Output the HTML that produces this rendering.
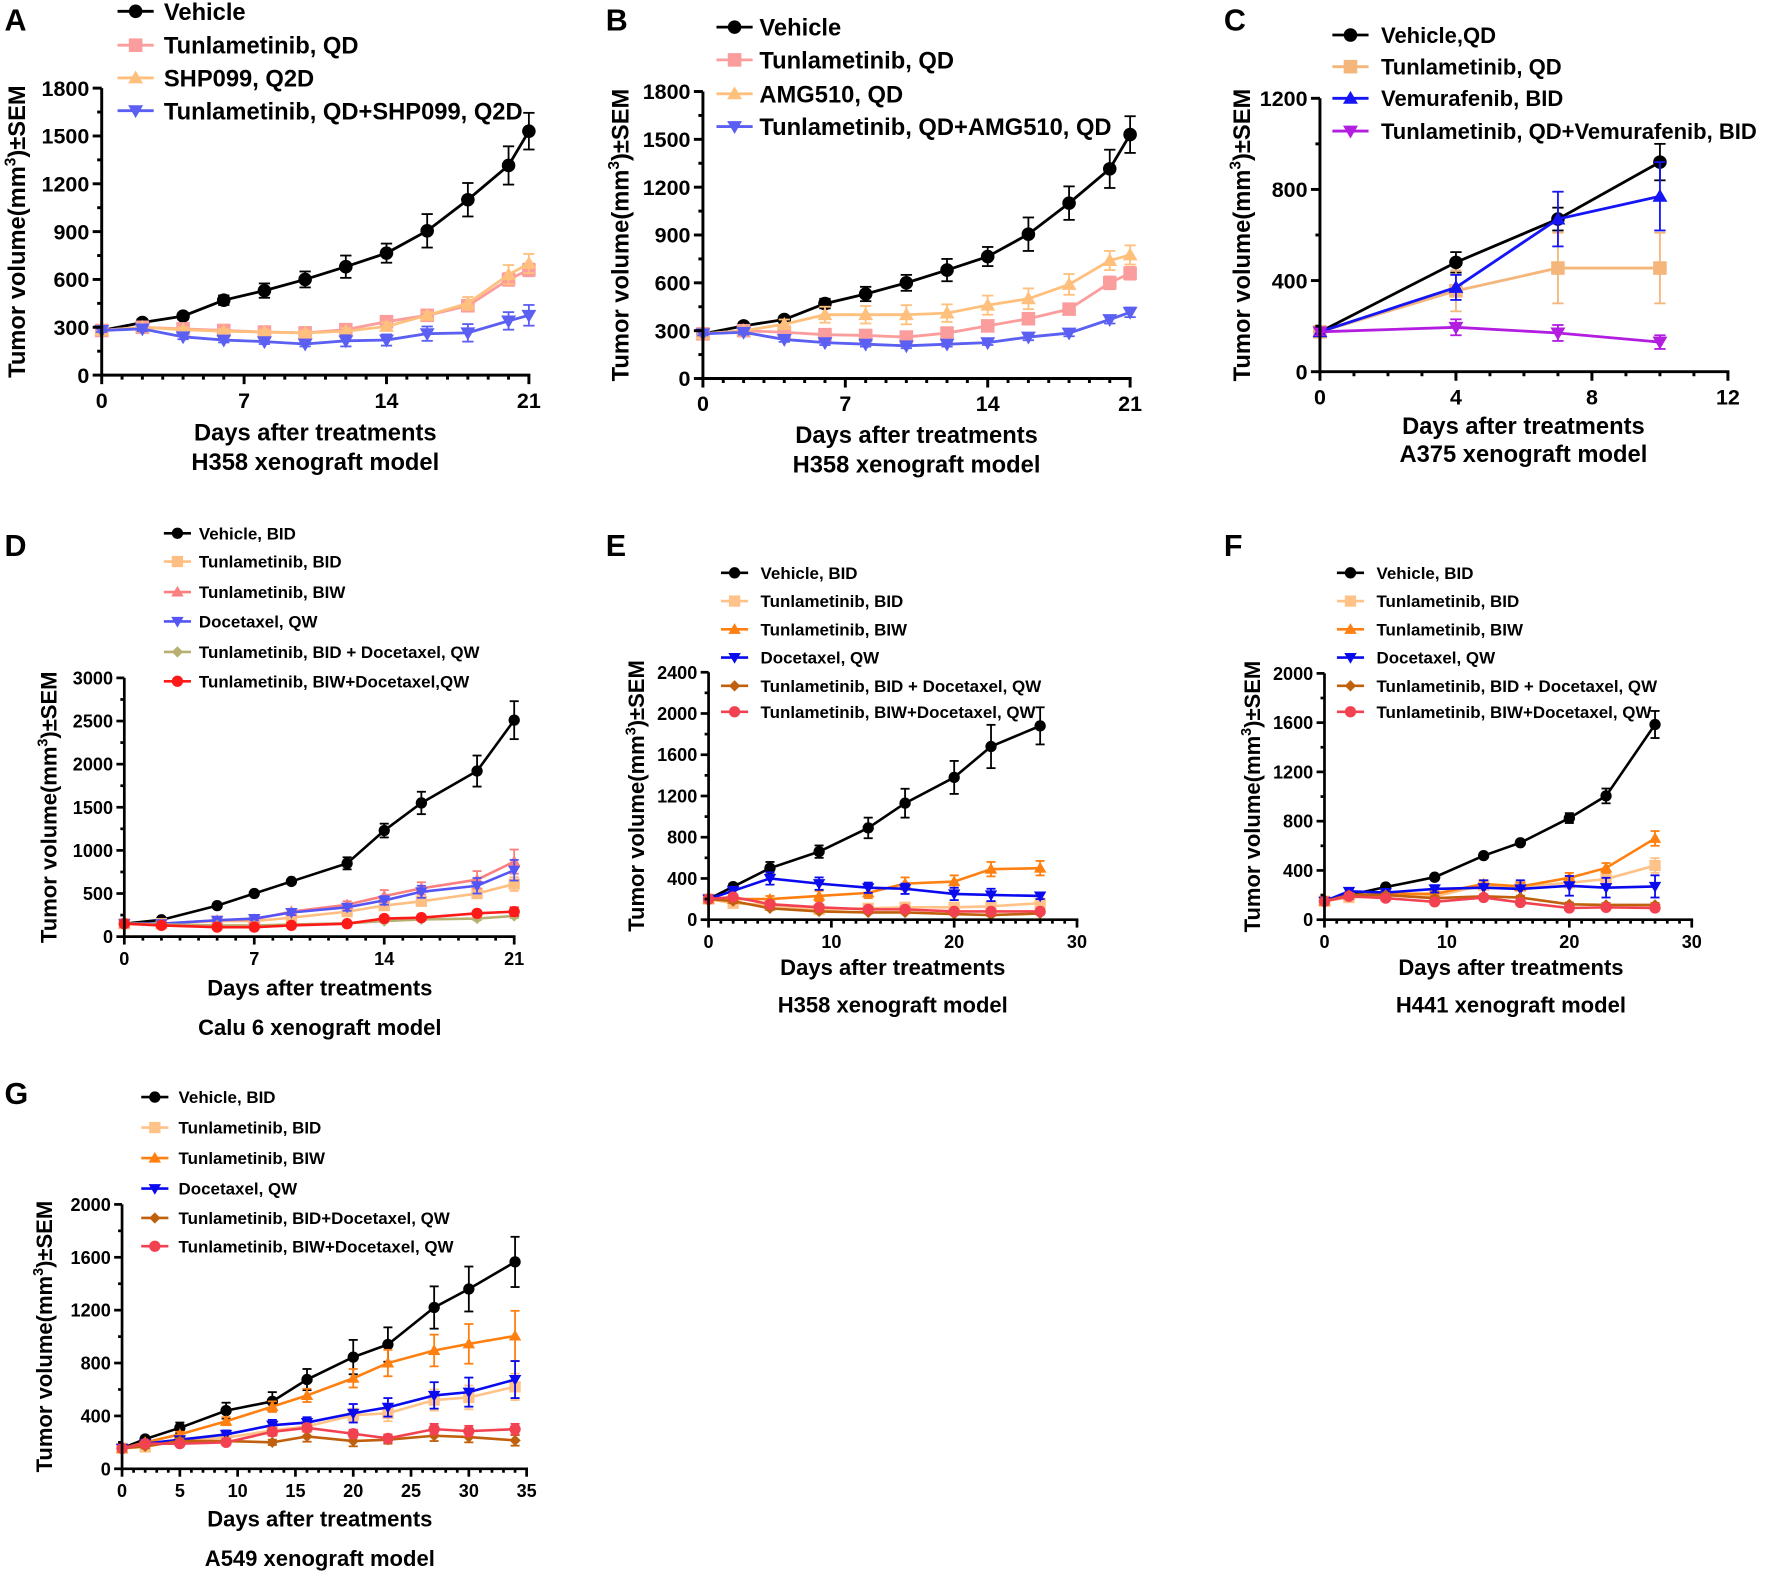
<!DOCTYPE html>
<html><head><meta charset="utf-8"><style>
html,body{margin:0;padding:0;background:#fff;}
svg{display:block;font-family:"Liberation Sans",Arial,sans-serif;font-weight:bold;}
</style></head><body>
<svg id="fig" width="1772" height="1575" viewBox="0 0 1568 1394" preserveAspectRatio="none" xmlns="http://www.w3.org/2000/svg"></svg>
<script>
// ---------- DATA ----------
const aDays=[0,2,4,6,8,10,12,14,16,18,20,21];
const aVeh=[280,330,370,470,530,600,680,765,905,1100,1315,1530];
const aVehErr=[10,20,20,30,45,50,70,60,105,105,120,115];
const aTun=[280,300,290,280,270,265,285,335,375,435,600,660];
const aTunErr=[10,15,15,15,15,15,20,25,20,25,40,40];
const aShp=[280,300,285,275,270,265,275,305,375,450,630,700];
const aShpErr=[10,15,15,15,15,15,20,25,20,40,60,60];
const aCmb=[280,290,240,220,210,195,215,220,260,265,340,375];
const aCmbErr=[10,15,15,15,15,15,35,35,45,55,55,65];

const bDays=aDays;
const bVeh=[280,330,370,470,530,600,680,765,905,1100,1315,1530];
const bVehErr=[10,20,20,30,45,50,70,60,105,105,120,115];
const bTun=[280,300,290,275,270,260,285,330,375,435,600,660];
const bTunErr=[10,15,15,15,15,15,20,25,20,25,40,40];
const bAmg=[280,300,340,400,400,400,410,460,500,590,740,775];
const bAmgErr=[10,20,30,50,55,60,55,60,65,65,60,60];
const bCmb=[280,290,245,225,215,205,215,225,260,285,370,415];
const bCmbErr=[10,15,15,15,15,15,15,15,20,20,25,30];

const cDays=[0,4,7,10];
const cVeh=[175,480,670,920];const cVehErr=[15,45,50,80];
const cTun=[175,355,455,455];const cTunErr=[15,90,155,155];
const cVem=[175,370,670,770];const cVemErr=[15,55,120,150];
const cCmb=[175,195,170,130];const cCmbErr=[15,35,35,30];

const dDays=[0,2,5,7,9,12,14,16,19,21];
const dVeh=[150,195,360,500,640,850,1230,1550,1920,2510];
const dVehErr=[10,20,20,20,20,70,80,130,180,220];
const dTunBid=[150,150,180,180,220,290,360,410,500,610];
const dTunBidErr=[10,10,15,15,20,25,30,40,50,80];
const dTunBiw=[150,150,190,200,290,370,470,560,660,870];
const dTunBiwErr=[10,10,15,15,25,40,70,70,100,140];
const dDoc=[150,150,190,210,280,340,420,520,590,770];
const dDocErr=[10,10,15,20,30,40,50,70,90,120];
const dCbid=[150,140,130,130,140,155,180,200,210,240];
const dCbidErr=[10,10,10,10,10,15,15,15,20,25];
const dCbiw=[150,130,110,110,130,150,210,220,270,290];
const dCbiwErr=[10,10,10,10,10,15,20,20,30,50];

const eDays=[0,2,5,9,13,16,20,23,27];
const eVeh=[200,320,500,660,890,1130,1380,1680,1880];
const eVehErr=[10,30,60,60,100,140,160,210,180];
const eTunBid=[200,160,140,100,110,120,120,130,160];
const eTunBidErr=[20,20,20,20,20,20,20,20,30];
const eTunBiw=[200,200,200,230,260,350,370,490,500];
const eTunBiwErr=[20,30,30,50,50,60,60,70,70];
const eDoc=[200,280,400,350,310,300,250,240,230];
const eDocErr=[20,40,60,60,50,50,60,60,30];
const eCbid=[200,180,110,80,70,70,55,45,60];
const eCbidErr=[20,20,15,10,10,10,10,10,10];
const eCbiw=[200,220,150,120,100,100,80,80,80];
const eCbiwErr=[20,20,15,15,10,10,10,10,10];

const fDays=[0,2,5,9,13,16,20,23,27];
const fVeh=[150,200,265,345,520,625,825,1005,1585];
const fVehErr=[10,15,15,20,20,20,40,60,110];
const fTunBid=[150,180,200,190,280,270,300,330,440];
const fTunBidErr=[10,15,15,20,30,30,40,40,60];
const fTunBiw=[150,200,210,210,290,270,340,420,660];
const fTunBiwErr=[10,15,15,20,30,30,40,40,60];
const fDoc=[150,230,220,250,260,250,275,260,270];
const fDocErr=[10,20,30,30,60,70,80,80,90];
const fCbid=[150,200,200,175,190,180,125,120,120];
const fCbidErr=[10,15,15,15,15,15,15,15,15];
const fCbiw=[150,190,175,145,180,140,95,100,95];
const fCbiwErr=[10,15,15,15,15,15,15,15,15];

const gDays=[0,2,5,9,13,16,20,23,27,30,34];
const gVeh=[155,225,310,440,510,675,845,940,1220,1360,1565];
const gVehErr=[10,20,40,60,70,80,130,130,160,170,190];
const gTunBid=[155,165,215,235,290,320,405,420,520,540,620];
const gTunBidErr=[10,15,20,30,40,40,50,60,80,90,100];
const gTunBiw=[155,200,260,360,470,555,685,800,895,945,1005];
const gTunBiwErr=[10,15,20,30,40,50,70,100,120,150,190];
const gDoc=[155,190,220,260,330,350,420,465,555,580,675];
const gDocErr=[10,15,20,30,40,40,70,70,100,110,140];
const gCbid=[155,170,210,210,200,245,210,220,250,240,215];
const gCbidErr=[10,15,20,20,20,40,40,30,40,40,40];
const gCbiw=[155,190,190,200,280,310,265,230,300,285,300];
const gCbiwErr=[10,15,15,20,30,30,30,30,40,40,40];

// ---------- RENDER ----------
const NS="http://www.w3.org/2000/svg";
const svg=document.getElementById('fig');
function mk(tag,attrs,parent){const e=document.createElementNS(NS,tag);for(const k in attrs)e.setAttribute(k,attrs[k]);(parent||svg).appendChild(e);return e;}
function marker(g,type,x,y,r,color){
  let e;
  if(type==='circle')e=mk('circle',{cx:x,cy:y,r:r,fill:color},g);
  else if(type==='square')e=mk('rect',{x:x-r,y:y-r,width:2*r,height:2*r,fill:color},g);
  else if(type==='up')e=mk('polygon',{points:`${x},${y-r*1.1} ${x-r*1.1},${y+r*0.8} ${x+r*1.1},${y+r*0.8}`,fill:color},g);
  else if(type==='down')e=mk('polygon',{points:`${x},${y+r*1.1} ${x-r*1.1},${y-r*0.8} ${x+r*1.1},${y-r*0.8}`,fill:color},g);
  else e=mk('polygon',{points:`${x},${y-r} ${x+r},${y} ${x},${y+r} ${x-r},${y}`,fill:color},g);
  return e;
}
function chart(P){
  const g=mk('g',{});
  
  
  const sx=v=>P.x0+(v-P.xmin)/(P.xmax-P.xmin)*(P.x1-P.x0);
  const sy=v=>P.y0-(v-P.ymin)/(P.ymax-P.ymin)*(P.y0-P.y1);
  const lab=mk('text',{x:P.lx,y:P.ly,'font-size':P.lfs,fill:'#000'},g);lab.textContent=P.label;
  
  P.series.forEach(s=>{
    const sg=mk('g',{},g);
    
    
    const pts=s.x.map((d,i)=>sx(d)+','+sy(s.y[i])).join(' ');
    mk('polyline',{points:pts,fill:'none',stroke:s.c,'stroke-width':P.lw},sg);
    s.x.forEach((d,i)=>{
      const X=sx(d),Y1=sy(s.y[i]+s.e[i]),Y2=sy(s.y[i]-s.e[i]);
      mk('line',{x1:X,x2:X,y1:Y1,y2:Y2,stroke:s.c,'stroke-width':1.6},sg);
      mk('line',{x1:X-P.cap,x2:X+P.cap,y1:Y1,y2:Y1,stroke:s.c,'stroke-width':1.6},sg);
      mk('line',{x1:X-P.cap,x2:X+P.cap,y1:Y2,y2:Y2,stroke:s.c,'stroke-width':1.6},sg);
      const m=marker(sg,s.m,X,sy(s.y[i]),P.mr,s.c);
      
      
    });
  });
  const ax=mk('g',{stroke:'#000','stroke-width':P.aw},g);
  
  mk('line',{x1:P.x0,x2:P.x1+P.aw/2,y1:P.y0,y2:P.y0},ax);
  mk('line',{x1:P.x0,x2:P.x0,y1:P.y0+P.aw/2,y2:P.y1},ax);
  P.yt.forEach((v,i)=>{
    mk('line',{x1:P.x0-P.tl,x2:P.x0,y1:sy(v),y2:sy(v)},ax);
    if(i<P.yt.length-1){const m=(v+P.yt[i+1])/2;mk('line',{x1:P.x0-P.tl/2,x2:P.x0,y1:sy(m),y2:sy(m)},ax);}
    const t=mk('text',{x:P.x0-P.tl-3,y:sy(v)+P.tfs*0.36,'text-anchor':'end','font-size':P.tfs,stroke:'none',fill:'#000'},g);t.textContent=v;
    
  });
  for(let d=P.xmin;d<=P.xmax;d+=P.xminor){
    const major=P.xt.includes(d);
    mk('line',{x1:sx(d),x2:sx(d),y1:P.y0,y2:P.y0+(major?P.tl:P.tl/2)},ax);
  }
  P.xt.forEach(v=>{const t=mk('text',{x:sx(v),y:P.y0+P.tl+P.tfs+2,'text-anchor':'middle','font-size':P.tfs,fill:'#000'},g);t.textContent=v;
    });
  const yc=(P.y0+P.y1)/2;
  const yt=mk('text',{x:P.ytx,y:yc,'text-anchor':'middle','font-size':P.afs,transform:`rotate(-90 ${P.ytx} ${yc})`,fill:'#000'},g);
  
  yt.appendChild(document.createTextNode('Tumor volume(mm'));
  const sup=mk('tspan',{'font-size':P.afs*0.65,dy:-P.afs*0.4},yt);sup.textContent='3';
  const rest=mk('tspan',{dy:P.afs*0.4},yt);rest.textContent=')±SEM';
  const xt=mk('text',{x:P.tcx,y:P.t1y,'text-anchor':'middle','font-size':P.afs,fill:'#000'},g);xt.textContent='Days after  treatments';
  
  const mt=mk('text',{x:P.tcx,y:P.t2y,'text-anchor':'middle','font-size':P.afs,fill:'#000'},g);mt.textContent=P.model;
  
  const lg=mk('g',{},g);
  P.series.forEach((s,i)=>{
    const y=P.legY[i];
    const le=mk('g',{},lg);
    mk('line',{x1:P.legX-P.legL,x2:P.legX+P.legL,y1:y,y2:y,stroke:s.c,'stroke-width':P.lw},le);
    marker(le,s.m,P.legX,y,P.mr,s.c);
    const t=mk('text',{x:P.legTX,y:y+P.legFs*0.36,'font-size':P.legFs,fill:'#000'},le);t.textContent=s.name;
  });
}
const big={lfs:27,tfs:19,afs:21,legFs:21,lw:2.5,aw:2.6,tl:8,mr:6,cap:5,legL:16};
const sm={lfs:27,tfs:16,afs:19.5,legFs:15,lw:2.3,aw:2.4,tl:7,mr:5,cap:4,legL:12};
const K='#000';
chart(Object.assign({},big,{id:'a',label:'A',lx:4,ly:27,x0:90,x1:468,xmin:0,xmax:21,y0:332,y1:78,ymin:0,ymax:1800,
  yt:[0,300,600,900,1200,1500,1800],xt:[0,7,14,21],xminor:1,ytx:22,tcx:279,t1y:390,t2y:416,model:'H358 xenograft model',
  legX:120,legTX:145,legY:[10,40,69,98],
  series:[{key:'vehicle',name:'Vehicle',c:K,m:'circle',x:aDays,y:aVeh,e:aVehErr},
  {key:'tunlametinib-qd',name:'Tunlametinib, QD',c:'#fb9d9d',m:'square',x:aDays,y:aTun,e:aTunErr},
  {key:'shp099',name:'SHP099, Q2D',c:'#ffc07d',m:'up',x:aDays,y:aShp,e:aShpErr},
  {key:'combo',name:'Tunlametinib, QD+SHP099, Q2D',c:'#5b5ff2',m:'down',x:aDays,y:aCmb,e:aCmbErr}]}));
chart(Object.assign({},big,{id:'b',label:'B',lx:536,ly:27,x0:622,x1:1000,xmin:0,xmax:21,y0:335,y1:81,ymin:0,ymax:1800,
  yt:[0,300,600,900,1200,1500,1800],xt:[0,7,14,21],xminor:1,ytx:556,tcx:811,t1y:392,t2y:418,model:'H358 xenograft model',
  legX:650,legTX:672,legY:[24,53,83,112],
  series:[{key:'vehicle',name:'Vehicle',c:K,m:'circle',x:bDays,y:bVeh,e:bVehErr},
  {key:'tunlametinib-qd',name:'Tunlametinib,  QD',c:'#fb9d9d',m:'square',x:bDays,y:bTun,e:bTunErr},
  {key:'amg510',name:'AMG510, QD',c:'#ffc07d',m:'up',x:bDays,y:bAmg,e:bAmgErr},
  {key:'combo',name:'Tunlametinib, QD+AMG510, QD',c:'#5b5ff2',m:'down',x:bDays,y:bCmb,e:bCmbErr}]}));
chart(Object.assign({},big,{id:'c',label:'C',legFs:19.5,lx:1083,ly:27,x0:1168,x1:1529,xmin:0,xmax:12,y0:329,y1:87,ymin:0,ymax:1200,
  yt:[0,400,800,1200],xt:[0,4,8,12],xminor:1,ytx:1106,tcx:1348,t1y:384,t2y:409,model:'A375 xenograft model',
  legX:1195,legTX:1222,legY:[31,59,87,116],
  series:[{key:'vehicle',name:'Vehicle,QD',c:K,m:'circle',x:cDays,y:cVeh,e:cVehErr},
  {key:'tunlametinib-qd',name:'Tunlametinib, QD',c:'#f4b67a',m:'square',x:cDays,y:cTun,e:cTunErr},
  {key:'vemurafenib',name:'Vemurafenib, BID',c:'#1515f5',m:'up',x:cDays,y:cVem,e:cVemErr},
  {key:'combo',name:'Tunlametinib, QD+Vemurafenib, BID',c:'#b21de0',m:'down',x:cDays,y:cCmb,e:cCmbErr}]}));
const lo='#ffc288',or='#ff7f10',bl='#0a0aee',br='#c0600c',rd='#f24252';
chart(Object.assign({},sm,{id:'d',label:'D',lx:4,ly:492,x0:110,x1:455,xmin:0,xmax:21,y0:829,y1:600,ymin:0,ymax:3000,
  yt:[0,500,1000,1500,2000,2500,3000],xt:[0,7,14,21],xminor:1,ytx:50,tcx:283,t1y:881,t2y:916,model:'Calu 6 xenograft model',
  legX:157,legTX:176,legY:[472,497,524,550,577,603],
  series:[{key:'vehicle',name:'Vehicle, BID',c:K,m:'circle',x:dDays,y:dVeh,e:dVehErr},
  {key:'tunlametinib-bid',name:'Tunlametinib, BID',c:'#ffbe82',m:'square',x:dDays,y:dTunBid,e:dTunBidErr},
  {key:'tunlametinib-biw',name:'Tunlametinib, BIW',c:'#fb7f7f',m:'up',x:dDays,y:dTunBiw,e:dTunBiwErr},
  {key:'docetaxel',name:'Docetaxel, QW',c:'#5555f5',m:'down',x:dDays,y:dDoc,e:dDocErr},
  {key:'combo-bid',name:'Tunlametinib, BID + Docetaxel, QW',c:'#b8b070',m:'diamond',x:dDays,y:dCbid,e:dCbidErr},
  {key:'combo-biw',name:'Tunlametinib, BIW+Docetaxel,QW',c:'#ff1a1a',m:'circle',x:dDays,y:dCbiw,e:dCbiwErr}]}));
const sixE=(D,a,ae,b,be,c,ce,d,de,e,ee,f,fe,sep)=>[
  {key:'vehicle',name:'Vehicle, BID',c:K,m:'circle',x:D,y:a,e:ae},
  {key:'tunlametinib-bid',name:'Tunlametinib, BID',c:lo,m:'square',x:D,y:b,e:be},
  {key:'tunlametinib-biw',name:'Tunlametinib, BIW',c:or,m:'up',x:D,y:c,e:ce},
  {key:'docetaxel',name:'Docetaxel, QW',c:bl,m:'down',x:D,y:d,e:de},
  {key:'combo-bid',name:'Tunlametinib, BID'+sep+'Docetaxel, QW',c:br,m:'diamond',x:D,y:e,e:ee},
  {key:'combo-biw',name:'Tunlametinib, BIW+Docetaxel, QW',c:rd,m:'circle',x:D,y:f,e:fe}];
chart(Object.assign({},sm,{id:'e',label:'E',lx:536,ly:492,x0:627,x1:953,xmin:0,xmax:30,y0:814,y1:595,ymin:0,ymax:2400,
  yt:[0,400,800,1200,1600,2000,2400],xt:[0,10,20,30],xminor:1,ytx:570,tcx:790,t1y:863,t2y:896,model:'H358 xenograft model',
  legX:650,legTX:673,legY:[507,532,557,582,607,630],
  series:sixE(eDays,eVeh,eVehErr,eTunBid,eTunBidErr,eTunBiw,eTunBiwErr,eDoc,eDocErr,eCbid,eCbidErr,eCbiw,eCbiwErr,' + ')}));
chart(Object.assign({},sm,{id:'f',label:'F',lx:1083,ly:492,x0:1172,x1:1497,xmin:0,xmax:30,y0:814,y1:596,ymin:0,ymax:2000,
  yt:[0,400,800,1200,1600,2000],xt:[0,10,20,30],xminor:1,ytx:1115,tcx:1337,t1y:863,t2y:896,model:'H441 xenograft model',
  legX:1195,legTX:1218,legY:[507,532,557,582,607,630],
  series:sixE(fDays,fVeh,fVehErr,fTunBid,fTunBidErr,fTunBiw,fTunBiwErr,fDoc,fDocErr,fCbid,fCbidErr,fCbiw,fCbiwErr,' + ')}));
chart(Object.assign({},sm,{id:'g',label:'G',lx:4,ly:977,x0:108,x1:466,xmin:0,xmax:35,y0:1300,y1:1066,ymin:0,ymax:2000,
  yt:[0,400,800,1200,1600,2000],xt:[0,5,10,15,20,25,30,35],xminor:1,ytx:46,tcx:283,t1y:1351,t2y:1386,model:'A549 xenograft model',
  legX:137,legTX:158,legY:[971,998,1025,1052,1078,1103],
  series:sixE(gDays,gVeh,gVehErr,gTunBid,gTunBidErr,gTunBiw,gTunBiwErr,gDoc,gDocErr,gCbid,gCbidErr,gCbiw,gCbiwErr,'+')}));
</script>
</body></html>
